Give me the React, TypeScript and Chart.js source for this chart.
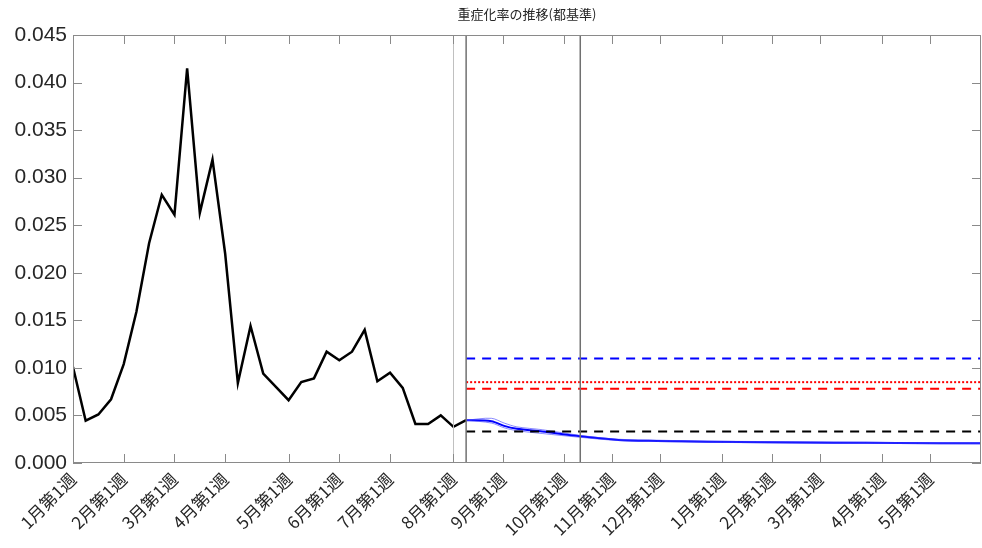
import { useEffect, useRef } from "react";
import { Chart, registerables } from "chart.js";

Chart.register(...registerables);

// weekly observed rate (week index 0 = 1月第1週)
const observed = [
  0.0101, 0.00445, 0.0051, 0.0067, 0.0104, 0.0159, 0.0231, 0.0282, 0.0261, 0.0415,
  0.0263, 0.0319, 0.022, 0.0084, 0.0144, 0.0094, 0.008, 0.0066, 0.0085, 0.0089,
  0.0117, 0.0108, 0.0117, 0.014, 0.0086, 0.0095, 0.0079, 0.0041, 0.0041, 0.005,
  0.0038, 0.0045,
];
// forecast (week index, value)
const forecastX = [31, 33, 34, 35, 37, 40, 43, 46, 50, 55, 60, 65, 71.6];
const forecastY = [0.0045, 0.0044, 0.0039, 0.0036, 0.0033, 0.0028, 0.00243, 0.00232, 0.00224, 0.00218, 0.00214, 0.0021, 0.00207];
const upperY = [0.0045, 0.0047, 0.0042, 0.0038, 0.0035, 0.0029, 0.0025, 0.0024, 0.0023, 0.00225, 0.0022, 0.00215, 0.0021];
const lowerY = [0.0045, 0.0042, 0.0037, 0.0034, 0.0031, 0.0027, 0.00236, 0.00226, 0.00218, 0.00212, 0.00208, 0.00205, 0.00202];
// reference levels
const blueDash = 0.011;
const redDot = 0.0085;
const redDash = 0.0078;
const blackDash = 0.0033;
const refStart = 31;
const xMax = 71.6;
// vertical markers
const vLight = 30;
const vDark = [31, 40];
// x tick positions and labels
const tickPos = [0, 4, 8, 12, 17, 21, 25, 30, 33.9, 38.7, 42.5, 46.3, 51.2, 55.1, 58.9, 63.8, 67.6];
const tickLabels = [
  "1月第1週", "2月第1週", "3月第1週", "4月第1週", "5月第1週", "6月第1週", "7月第1週", "8月第1週",
  "9月第1週", "10月第1週", "11月第1週", "12月第1週", "1月第1週", "2月第1週", "3月第1週", "4月第1週", "5月第1週",
];
const title = "重症化率の推移(都基準)";

const frame = {
  id: "frame",
  afterDatasetsDraw(chart: any) {
    const { ctx, chartArea: a, scales } = chart;
    ctx.save();
    ctx.lineWidth = 1;
    ctx.strokeStyle = "#c0c0c0";
    const px = Math.round(scales.x.getPixelForValue(vLight)) + 0.5;
    ctx.beginPath(); ctx.moveTo(px, a.top); ctx.lineTo(px, a.bottom); ctx.stroke();
    ctx.strokeStyle = "#707070";
    ctx.lineWidth = 1.5;
    vDark.forEach((v) => {
      const p = scales.x.getPixelForValue(v);
      ctx.beginPath(); ctx.moveTo(p, a.top); ctx.lineTo(p, a.bottom); ctx.stroke();
    });
    ctx.lineWidth = 1;
    ctx.strokeStyle = "#8a8a8a";
    ctx.strokeRect(a.left + 0.5, a.top + 0.5, a.right - a.left - 1, a.bottom - a.top - 1);
    ctx.beginPath();
    tickPos.forEach((v) => {
      const p = Math.round(scales.x.getPixelForValue(v)) + 0.5;
      ctx.moveTo(p, a.bottom); ctx.lineTo(p, a.bottom - 9);
      ctx.moveTo(p, a.top); ctx.lineTo(p, a.top + 9);
    });
    scales.y.ticks.forEach((t: any) => {
      const p = Math.round(scales.y.getPixelForValue(t.value)) + 0.5;
      ctx.moveTo(a.left, p); ctx.lineTo(a.left + 9, p);
      ctx.moveTo(a.right, p); ctx.lineTo(a.right - 9, p);
    });
    ctx.stroke();
    ctx.fillStyle = "#262626";
    ctx.font = "13px 'Noto Sans CJK JP'";
    ctx.textAlign = "center";
    ctx.textBaseline = "middle";
    ctx.fillText(title, (a.left + a.right) / 2, 14);
    ctx.restore();
  },
};

export default function App() {
  const canvasRef = useRef<HTMLCanvasElement | null>(null);

  useEffect(() => {
    if (!canvasRef.current) return;
    const hline = (y: number, color: string, dash: number[], w = 2) => ({
      data: [{ x: refStart, y }, { x: xMax, y }],
      borderColor: color, borderDash: dash, borderWidth: w, pointRadius: 0,
    });
    const chart = new Chart(canvasRef.current, {
      type: "line",
      data: {
        datasets: [
          hline(blueDash, "#0000ff", [9, 7]),
          hline(redDot, "#ff0000", [2, 2]),
          hline(redDash, "#ff0000", [9, 7]),
          hline(blackDash, "#000000", [9, 7]),
          { data: forecastX.map((x, i) => ({ x, y: upperY[i] })), borderColor: "rgba(60,60,255,0.6)", borderWidth: 1, pointRadius: 0, tension: 0.3 },
          { data: forecastX.map((x, i) => ({ x, y: lowerY[i] })), borderColor: "rgba(60,60,255,0.6)", borderWidth: 1, pointRadius: 0, tension: 0.3 },
          { data: forecastX.map((x, i) => ({ x, y: forecastY[i] })), borderColor: "#0000ff", borderWidth: 2, pointRadius: 0, tension: 0.3 },
          { data: observed.map((y, i) => ({ x: i, y })), borderColor: "#000000", borderWidth: 2.5, pointRadius: 0 },
        ] as any,
      },
      options: {
        animation: false,
        responsive: false,
        layout: { padding: { top: 35, right: 1, left: 0, bottom: 0 } },
        plugins: { legend: { display: false }, tooltip: { enabled: false } },
        scales: {
          x: {
            type: "linear", min: 0, max: xMax,
            grid: { display: false, drawTicks: false }, border: { display: false },
            afterBuildTicks: (s: any) => { s.ticks = tickPos.map((v) => ({ value: v })); },
            afterFit: (s: any) => { s.height = 85; },
            ticks: {
              autoSkip: false, maxRotation: 45, minRotation: 45, padding: 6,
              color: "#262626", font: { size: 17, family: "'Noto Sans CJK JP'" },
              callback: (v: any) => tickLabels[tickPos.indexOf(Number(v))] ?? "",
            },
          },
          y: {
            min: 0, max: 0.045,
            grid: { display: false, drawTicks: false }, border: { display: false },
            afterFit: (s: any) => { s.width = 73; },
            ticks: {
              stepSize: 0.005, padding: 6, color: "#262626",
              font: { size: 21, family: "'Liberation Sans'" },
              callback: (v: any) => Number(v).toFixed(3),
            },
          },
        },
      },
      plugins: [frame],
    });
    return () => chart.destroy();
  }, []);

  return (
    <div style={{ position: "absolute", left: 0, top: 0 }}>
      <canvas ref={canvasRef} width={982} height={548} />
    </div>
  );
}
